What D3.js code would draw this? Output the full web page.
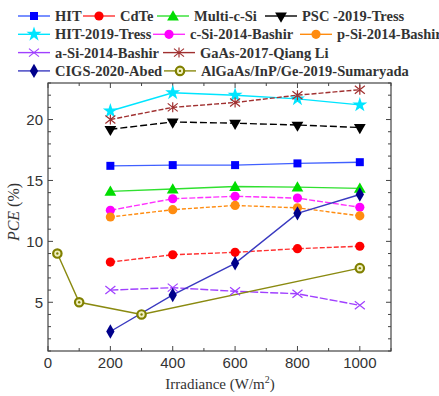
<!DOCTYPE html>
<html>
<head>
<meta charset="utf-8">
<script src="https://cdn.jsdelivr.net/npm/d3@7"></script>
<style>
  body { margin: 0; background: #fff; }
  svg { display: block; font-family: "Liberation Serif", "Times New Roman", serif; }
</style>
</head>
<body>
<svg id="svg" width="439" height="396"></svg>
<script>
const irr = [200, 400, 600, 800, 1000];
const irrAlGaAs = [30, 100, 300, 1000];

const hit = [16.2, 16.26, 16.26, 16.4, 16.5];
const cdte = [8.3, 8.9, 9.1, 9.4, 9.6];
const multiSi = [14.1, 14.3, 14.5, 14.45, 14.35];
const psc = [19.2, 19.8, 19.7, 19.55, 19.35];
const hitTress = [20.7, 22.2, 22.0, 21.7, 21.2];
const cSi = [12.55, 13.5, 13.7, 13.55, 12.8];
const pSi = [12.0, 12.6, 12.95, 12.75, 12.1];
const aSi = [6.0, 6.2, 5.9, 5.7, 4.75];
const gaas = [20.0, 21.0, 21.4, 22.0, 22.45];
const cigs = [2.6, 5.6, 8.2, 12.3, 13.85];
const algaas = [9.0, 5.0, 4.0, 7.8];

const xTicks = [0, 200, 400, 600, 800, 1000];
const yTicks = [5, 10, 15, 20];

const series = [
  {name: "HIT", x: irr, y: hit, color: "#0000ff", line: "#4060ff", sym: "square", dash: null},
  {name: "CdTe", x: irr, y: cdte, color: "#ff0000", line: "#ff3030", sym: "circle", dash: "5,2"},
  {name: "Multi-c-Si", x: irr, y: multiSi, color: "#00dd00", line: "#30e030", sym: "triangle", dash: null},
  {name: "PSC -2019-Tress", x: irr, y: psc, color: "#000000", line: "#000000", sym: "tridown", dash: "7,3"},
  {name: "HIT-2019-Tress", x: irr, y: hitTress, color: "#00e5ff", line: "#00e5ff", sym: "star", dash: null},
  {name: "c-Si-2014-Bashir", x: irr, y: cSi, color: "#ff00ff", line: "#ff30ff", sym: "circle", dash: "6,2"},
  {name: "p-Si-2014-Bashir", x: irr, y: pSi, color: "#ff8c10", line: "#ff8c10", sym: "circle", dash: "4,2"},
  {name: "a-Si-2014-Bashir", x: irr, y: aSi, color: "#a040ff", line: "#a040ff", sym: "cross", dash: "8,2"},
  {name: " GaAs-2017-Qiang Li", x: irr, y: gaas, color: "#a03030", line: "#a03030", sym: "asterisk", dash: "5,2"},
  {name: "CIGS-2020-Abed", x: irr, y: cigs, color: "#00008b", line: "#3a3ac0", sym: "diamond", dash: null},
  {name: "AlGaAs/InP/Ge-2019-Sumaryada", x: irrAlGaAs, y: algaas, color: "#808000", line: "#8a8a10", sym: "dotcircle", dash: null}
];

const legendRows = [
  [[0, 18], [1, 83], [2, 157], [3, 265]],
  [[4, 18], [5, 153], [6, 300]],
  [[7, 18], [8, 163]],
  [[9, 18], [10, 164]]
];

const svg = d3.select("#svg");
const L = 48, R = 391, T = 83, B = 351;
const x = d3.scaleLinear().domain([0, 1100]).range([L, R]);
const y = d3.scaleLinear().domain([1, 23]).range([B, T]);

function marker(g, sym, color, cx, cy) {
  const s = d3.symbol();
  if (sym === "square") {
    g.append("path").attr("d", s.type(d3.symbolSquare).size(64)()).attr("transform", `translate(${cx},${cy})`).attr("fill", color);
  } else if (sym === "circle") {
    g.append("circle").attr("cx", cx).attr("cy", cy).attr("r", 4.6).attr("fill", color);
  } else if (sym === "triangle") {
    g.append("path").attr("d", s.type(d3.symbolTriangle).size(60)()).attr("transform", `translate(${cx},${cy + 1})`).attr("fill", color);
  } else if (sym === "tridown") {
    g.append("path").attr("d", s.type(d3.symbolTriangle).size(60)()).attr("transform", `translate(${cx},${cy}) rotate(180)`).attr("fill", color);
  } else if (sym === "star") {
    g.append("path").attr("d", s.type(d3.symbolStar).size(70)()).attr("transform", `translate(${cx},${cy})`).attr("fill", color);
  } else if (sym === "diamond") {
    g.append("path").attr("d", s.type(d3.symbolDiamond).size(60)()).attr("transform", `translate(${cx},${cy})`).attr("fill", color);
  } else if (sym === "cross") {
    g.append("path").attr("d", "M-5,-4L5,4M-5,4L5,-4").attr("transform", `translate(${cx},${cy})`)
      .attr("stroke", color).attr("stroke-width", 1.2).attr("fill", "none");
  } else if (sym === "asterisk") {
    g.append("path").attr("d", "M-5,-4L5,4M-5,4L5,-4M0,-5L0,5").attr("transform", `translate(${cx},${cy})`)
      .attr("stroke", color).attr("stroke-width", 1.2).attr("fill", "none");
  } else if (sym === "dotcircle") {
    g.append("circle").attr("cx", cx).attr("cy", cy).attr("r", 4.2).attr("fill", "#f0f0c0")
      .attr("stroke", color).attr("stroke-width", 2.2);
    g.append("circle").attr("cx", cx).attr("cy", cy).attr("r", 1.2).attr("fill", color);
  }
}

// frame
svg.append("rect").attr("x", L).attr("y", T).attr("width", R - L).attr("height", B - T)
  .attr("fill", "none").attr("stroke", "#444").attr("stroke-width", 1.2);

// ticks (inward, mirrored)
const tg = svg.append("g").attr("stroke", "#444").attr("stroke-width", 1);
d3.range(0, 1101, 100).forEach(v => {
  const len = v % 200 === 0 ? 5 : 3;
  tg.append("line").attr("x1", x(v)).attr("x2", x(v)).attr("y1", B).attr("y2", B - len);
  tg.append("line").attr("x1", x(v)).attr("x2", x(v)).attr("y1", T).attr("y2", T + len);
});
d3.range(1, 24, 1).forEach(v => {
  const len = v % 5 === 0 ? 5 : 3;
  tg.append("line").attr("x1", L).attr("x2", L + len).attr("y1", y(v)).attr("y2", y(v));
  tg.append("line").attr("x1", R).attr("x2", R - len).attr("y1", y(v)).attr("y2", y(v));
});

const sans = "'Liberation Sans', Arial, sans-serif";
svg.append("g").selectAll("text").data(xTicks).join("text")
  .attr("x", d => x(d)).attr("y", 368).attr("text-anchor", "middle")
  .attr("font-family", sans).attr("font-size", 15).attr("fill", "#333").text(d => d);
svg.append("g").selectAll("text").data(yTicks).join("text")
  .attr("x", 43).attr("y", d => y(d) + 5.5).attr("text-anchor", "end")
  .attr("font-family", sans).attr("font-size", 15).attr("fill", "#333").text(d => d);

// axis titles
const yl = svg.append("text").attr("transform", "translate(19,212) rotate(-90)")
  .attr("text-anchor", "middle").attr("font-size", 16).attr("fill", "#333");
yl.append("tspan").attr("font-style", "italic").text("PCE");
yl.append("tspan").text(" (%)");
const xl = svg.append("text").attr("x", 220).attr("y", 389).attr("text-anchor", "middle")
  .attr("font-size", 15).attr("fill", "#333");
xl.append("tspan").text("Irradiance (W/m");
xl.append("tspan").attr("font-size", 10).attr("dy", -6).text("2");
xl.append("tspan").attr("dy", 6).text(")");

// series
const line = d3.line().x(d => x(d[0])).y(d => y(d[1]));
const plot = svg.append("g");
series.forEach(s => {
  const pts = s.x.map((v, i) => [v, s.y[i]]);
  plot.append("path").datum(pts).attr("d", line).attr("fill", "none")
    .attr("stroke", s.line).attr("stroke-width", 1.4)
    .attr("stroke-dasharray", s.dash);
});
series.forEach(s => {
  s.x.forEach((v, i) => marker(plot, s.sym, s.color, x(v), y(s.y[i])));
});

// legend
const lg = svg.append("g");
legendRows.forEach((row, ri) => {
  const cy = 16 + ri * 18.3;
  row.forEach(([idx, lx]) => {
    const s = series[idx];
    lg.append("line").attr("x1", lx).attr("x2", lx + 32).attr("y1", cy).attr("y2", cy)
      .attr("stroke", s.line).attr("stroke-width", 1.4);
    marker(lg, s.sym, s.color, lx + 16, cy);
    lg.append("text").attr("x", lx + 37).attr("y", cy + 5).attr("font-size", 14.5)
      .attr("font-weight", "bold").attr("fill", "#333").text(s.name);
  });
});
</script>
</body>
</html>
